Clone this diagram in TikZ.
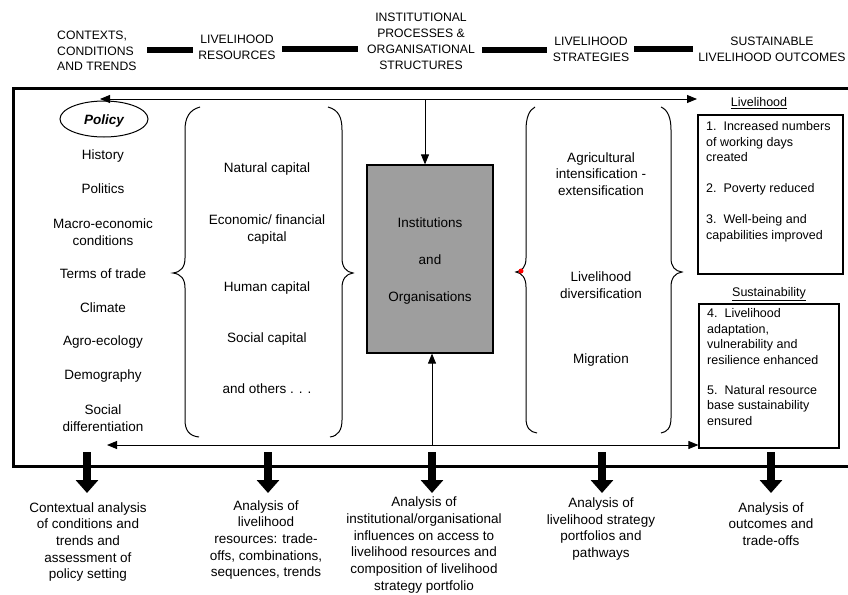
\documentclass[tikz,border=0pt]{standalone}
\usepackage{fontspec}
\setmainfont{Liberation Sans}
\usetikzlibrary{arrows.meta,shapes.geometric}
\begin{document}
\begin{tikzpicture}[x=1pt,y=-1pt,
  hd/.style={font=\fontsize{12.2}{15.8}\selectfont,align=center,inner sep=0pt},
  txt/.style={font=\fontsize{13.5}{17}\selectfont,align=center,inner sep=0pt},
  btxt/.style={font=\fontsize{13.5}{16.7}\selectfont,align=center,inner sep=0pt},
  otxt/.style={font=\fontsize{12.5}{15.5}\selectfont,align=left,inner sep=0pt,anchor=north west},
  lbl/.style={font=\fontsize{12.5}{15}\selectfont,inner sep=0pt},
  hbar/.style={line width=6pt},
  frameline/.style={line width=3pt},
  brc/.style={line width=1pt},
  arr/.style={line width=0.9pt,-{Triangle[width=8pt,length=10pt]}},
  darr/.style={line width=0.9pt,{Triangle[width=8pt,length=10pt]}-{Triangle[width=8pt,length=10pt]}},
  bigarr/.style={line width=8pt,-{Triangle[width=22pt,length=13pt]}},
  obox/.style={draw,line width=1.2pt,inner sep=0pt},
]
\useasboundingbox (0,0) rectangle (848,594);

% ---------- headings ----------
\node[hd,align=left,anchor=west] (h1) at (57,51) {CONTEXTS,\\CONDITIONS\\AND TRENDS};
\node[hd] (h2) at (237,47.5) {LIVELIHOOD\\RESOURCES};
\node[hd] (h3) at (421,41.5) {INSTITUTIONAL\\PROCESSES \&\\ORGANISATIONAL\\STRUCTURES};
\node[hd] (h4) at (591,49) {LIVELIHOOD\\STRATEGIES};
\node[hd] (h5) at (772,49) {SUSTAINABLE\\LIVELIHOOD OUTCOMES};
\coordinate (b1a) at (147,50); \coordinate (b1b) at (193,50);
\coordinate (b2a) at (282,49); \coordinate (b2b) at (358,49);
\coordinate (b3a) at (482,50); \coordinate (b3b) at (547,50);
\coordinate (b4a) at (634,49); \coordinate (b4b) at (693,49);
\draw[hbar] (b1a) -- (b1b);
\draw[hbar] (b2a) -- (b2b);
\draw[hbar] (b3a) -- (b3b);
\draw[hbar] (b4a) -- (b4b);

% ---------- frame ----------
\coordinate (fTR) at (848,88); \coordinate (fTL) at (13,88);
\coordinate (fBL) at (13,466); \coordinate (fBR) at (848,466);
\draw[frameline] (fTR) -- (fTL) -- (fBL) -- (fBR);

% ---------- left column ----------
\node[draw,ellipse,line width=1pt,minimum width=88pt,minimum height=36pt,inner sep=0pt] (policy) at (104,119) {};
\node[txt,font=\fontsize{13.5}{17}\selectfont\bfseries\itshape] (policyt) at (104,121) {Policy};
\node[txt] (l1) at (103,156) {History};
\node[txt] (l2) at (103,189) {Politics};
\node[txt] (l3) at (103,232.5) {Macro-economic\\conditions};
\node[txt] (l4) at (103,274) {Terms of trade};
\node[txt] (l5) at (103,308) {Climate};
\node[txt] (l6) at (103,342) {Agro-ecology};
\node[txt] (l7) at (103,376) {Demography};
\node[txt] (l8) at (103,418) {Social\\differentiation};

% ---------- resources ----------
\draw[brc] (200,107) .. controls (189,110) and (185,118) .. (185,130) -- (185,258)
  .. controls (185,267) and (181,272) .. (173,273) .. controls (181,274) and (185,279) .. (185,288)
  -- (185,420) .. controls (185,430) and (189,436) .. (199,437);
\draw[brc] (328,107) .. controls (339,110) and (342,118) .. (342,130) -- (342,258)
  .. controls (342,267) and (346,272) .. (353,273) .. controls (346,274) and (342,279) .. (342,288)
  -- (342,420) .. controls (342,430) and (338,436) .. (330,437);
\node[txt] (r1) at (267,169) {Natural capital};
\node[txt] (r2) at (267,230) {Economic/ financial\\capital};
\node[txt] (r3) at (267,288) {Human capital};
\node[txt] (r4) at (267,339) {Social capital};
\node[txt] (r5) at (267,389) {and others . . .};

% ---------- institutions ----------
\node[draw,line width=1.2pt,fill={rgb,255:red,158;green,158;blue,158},minimum width=126pt,minimum height=188pt,inner sep=0pt] (inst) at (430,259) {};
\node[txt,font=\fontsize{13.5}{37}\selectfont] (instt) at (430,261) {Institutions\\and\\Organisations};

% ---------- strategies ----------
\draw[brc] (535,107) .. controls (529,110) and (526,118) .. (526,130) -- (526,258)
  .. controls (526,267) and (522,271) .. (516,272) .. controls (522,273) and (526,278) .. (526,287)
  -- (526,418) .. controls (526,428) and (530,432) .. (537,433);
\draw[brc] (661,107) .. controls (668,110) and (671,118) .. (671,130) -- (671,258)
  .. controls (671,267) and (675,271) .. (682,272) .. controls (675,273) and (671,278) .. (671,287)
  -- (671,418) .. controls (671,428) and (667,432) .. (661,433);
\node[circle,fill=red,inner sep=0pt,minimum size=5pt] (reddot) at (521,271) {};
\node[txt,font=\fontsize{13.5}{16.5}\selectfont] (s1) at (601,174) {Agricultural\\intensification -\\extensification};
\node[txt] (s2) at (601,285) {Livelihood\\diversification};
\node[txt] (s3) at (601,360) {Migration};

% ---------- outcomes ----------
\node[lbl] (livl) at (759,103) {\underline{Livelihood}};
\node[obox,minimum width=145pt,minimum height=159pt] (o1) at (770.5,194.5) {};
\node[otxt] (o1t) at (706,121.5) {1.\ \ Increased numbers\\of working days\\created\\[15.5pt]2.\ \ Poverty reduced\\[15.5pt]3.\ \ Well-being and\\capabilities improved};
\node[lbl] (susl) at (769,294) {\underline{Sustainability}};
\node[obox,minimum width=140pt,minimum height=144pt] (o2) at (769,376) {};
\node[otxt] (o2t) at (707,308.5) {4.\ \ Livelihood\\adaptation,\\vulnerability and\\resilience enhanced\\[14.5pt]5.\ \ Natural resource\\base sustainability\\ensured};

% ---------- internal arrows ----------
\coordinate (tl) at (100,99); \coordinate (tr) at (697,99);
\draw[darr] (tl) -- (tr);
\coordinate (tdown) at (425,99);
\draw[arr] (tdown) -- (tdown |- inst.north);
\coordinate (bl) at (107,445);
\draw[darr] (bl) -- (bl -| o2.west);
\coordinate (bup) at (432,445);
\draw[arr] (bup) -- (bup |- inst.south);

% ---------- bottom analysis ----------
\node[btxt] (a1) at (88,542) {Contextual analysis\\of conditions and\\trends and\\assessment of\\policy setting};
\node[btxt] (a2) at (266,540) {Analysis of\\livelihood\\resources: trade-\\offs, combinations,\\sequences, trends};
\node[btxt] (a3) at (424,545) {Analysis of\\institutional/organisational\\influences on access to\\livelihood resources and\\composition of livelihood\\strategy portfolio};
\node[btxt] (a4) at (601,529) {Analysis of\\livelihood strategy\\portfolios and\\pathways};
\node[btxt] (a5) at (771,524) {Analysis of\\outcomes and\\trade-offs};
\foreach \n/\x in {1/87,2/268,3/432,4/602,5/771}{
  \coordinate (ts\n) at (\x,452);
  \coordinate (te\n) at (\x,493);
  \draw[bigarr] (ts\n) -- (te\n);
}
\end{tikzpicture}
\end{document}
